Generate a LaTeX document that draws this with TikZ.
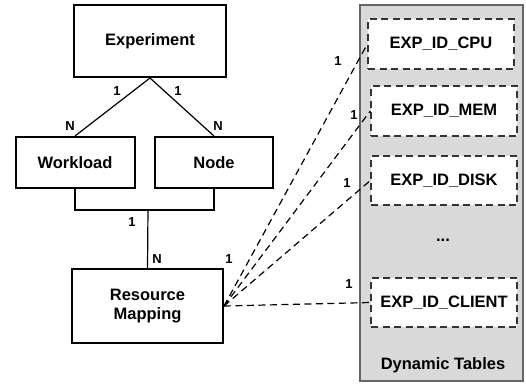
\documentclass[tikz,border=0pt]{standalone}
\usepackage{fontspec}
\setmainfont{Liberation Sans}
\begin{document}
\begin{tikzpicture}[x=1pt,y=-1pt,
  entity/.style={draw=black,line width=2pt,fill=white,font=\fontsize{16.5}{18}\selectfont\bfseries,align=center,inner sep=0pt},
  table/.style={draw=black!80,dash pattern=on 7pt off 4.5pt,line width=1.4pt,fill=white,font=\fontsize{16.5}{18}\selectfont\bfseries,inner sep=0pt,minimum width=146pt,minimum height=50pt},
  rel/.style={line width=1.2pt},
  dyn/.style={line width=1.2pt,dash pattern=on 7pt off 4.5pt},
  card/.style={font=\fontsize{13}{15}\selectfont\bfseries,inner sep=0pt}]
\useasboundingbox (0,0) rectangle (526,384);
\fill[white] (0,0) rectangle (526,384);
% panel
\node[draw=black!60,line width=1.2pt,fill=black!15,minimum width=163pt,minimum height=376pt,inner sep=0pt] (panel) at (441.5,193) {};
\node[font=\fontsize{16.5}{18}\selectfont\bfseries,inner sep=0pt] (dyntitle) at (443,365) {Dynamic Tables};
\node[font=\fontsize{16.5}{18}\selectfont\bfseries,inner sep=0pt] (dots) at (443,240) {...};
% entities
\node[entity,minimum width=152pt,minimum height=72pt] (exp) at (150,41) {Experiment};
\node[entity,minimum width=119pt,minimum height=51pt] (wl) at (75,162.5) {Workload};
\node[entity,minimum width=118pt,minimum height=51pt] (nd) at (214,162.5) {Node};
\node[entity,minimum width=151pt,minimum height=74pt] (rm) at (147.5,306) {Resource\\[1pt]Mapping};
% tables
\node[table] (cpu) at (441,44) {EXP\_ID\_CPU};
\node[table] (mem) at (444,111) {EXP\_ID\_MEM};
\node[table,minimum height=49pt] (disk) at (444,180.5) {EXP\_ID\_DISK};
\node[table,minimum height=49pt] (client) at (444,302.5) {EXP\_ID\_CLIENT};
% relations
\draw[rel] (exp.south) -- (wl.north);
\draw[rel] (exp.south) -- (nd.north);
\draw[rel] (wl.south) -- ++(0,21) -| (nd.south);
\coordinate (join) at (148,209);
\draw[rel] (join) -- (rm.north);
\draw[dyn] (rm.east) -- (cpu.west);
\draw[dyn] (rm.east) -- (mem.west);
\draw[dyn] (rm.east) -- (disk.west);
\draw[dyn] (rm.east) -- (client.west);
% cardinalities
\node[card] (c1) at (117,91) {1};
\node[card] (c2) at (178,91) {1};
\node[card] (c3) at (70,126) {N};
\node[card] (c4) at (218,126) {N};
\node[card] (c5) at (132,222) {1};
\node[card] (c6) at (157,259) {N};
\node[card] (c7) at (229,259) {1};
\node[card] (c8) at (338,61) {1};
\node[card] (c9) at (354,115) {1};
\node[card] (c10) at (347,183) {1};
\node[card] (c11) at (349,284) {1};
\end{tikzpicture}
\end{document}
